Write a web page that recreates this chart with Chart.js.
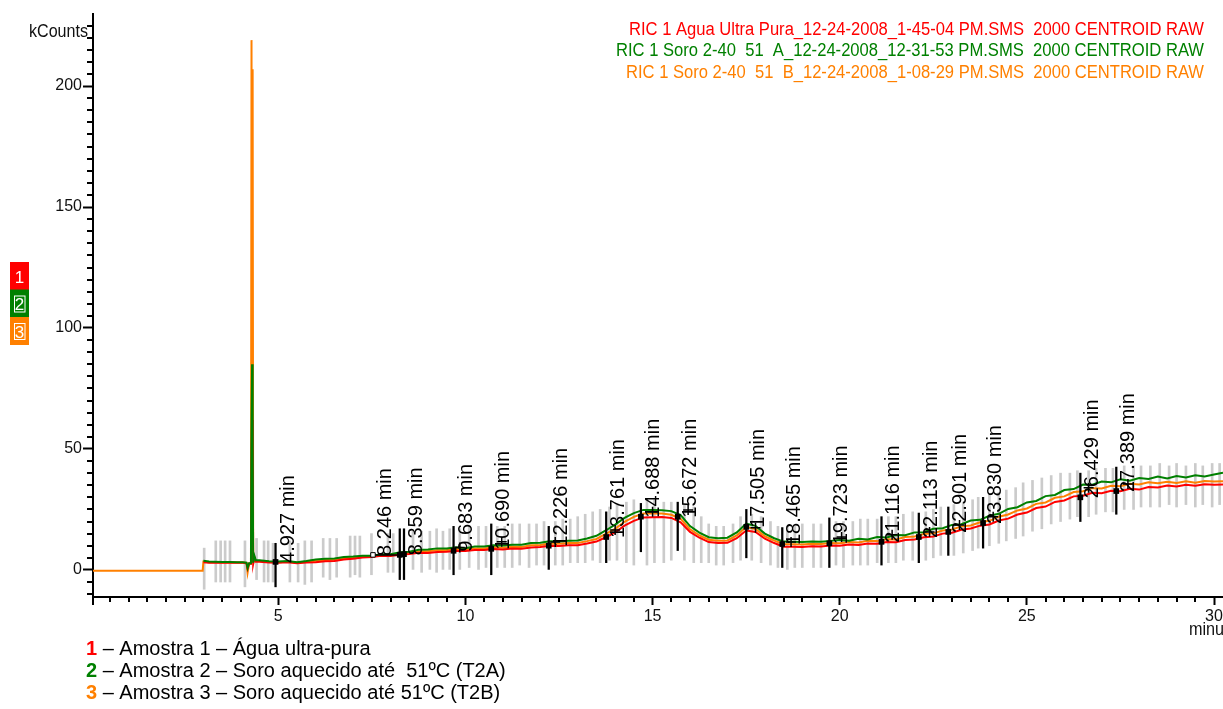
<!DOCTYPE html>
<html>
<head>
<meta charset="utf-8">
<script src="https://cdn.jsdelivr.net/npm/chart.js"></script>
<style>
  html, body { margin: 0; padding: 0; background: #fff; overflow: hidden; }
  canvas { display: block; }
</style>
</head>
<body>
<canvas id="chrom" width="1223" height="709"></canvas>
<script>
// ---- Trace names (header, top right) and sample notes (bottom left) ----
const seriesNames = [
  'RIC 1 Agua Ultra Pura_12-24-2008_1-45-04 PM.SMS  2000 CENTROID RAW',
  'RIC 1 Soro 2-40  51  A_12-24-2008_12-31-53 PM.SMS  2000 CENTROID RAW',
  'RIC 1 Soro 2-40  51  B_12-24-2008_1-08-29 PM.SMS  2000 CENTROID RAW'
];
const sampleNumbers = ['1', '2', '3'];
const sampleNotes = [
  '– Amostra 1 – Água ultra-pura',
  '– Amostra 2 – Soro aquecido até  51ºC (T2A)',
  '– Amostra 3 – Soro aquecido até 51ºC (T2B)'
];
const seriesColors = ['#ff0000', '#008000', '#ff8000'];

// ---- Axis tick labels ----
const xTickLabels = [5, 10, 15, 20, 25, 30];
const yTickLabels = [0, 50, 100, 150, 200];

// ---- Retention time (minutes) shared by the three traces ----
const retentionTime = [0.05, 2.98, 3.0, 3.15, 3.3, 3.5, 3.7, 3.9, 4.05, 4.15, 4.18, 4.22, 4.27, 4.285, 4.3, 4.315, 4.33, 4.36, 4.4,
  4.5, 4.75, 5.0, 5.25, 5.5, 5.75, 6.0, 6.25, 6.5, 6.75, 7.0, 7.25, 7.5, 7.75, 8.0, 8.25, 8.5, 8.75, 9.0, 9.25, 9.5, 9.75,
  10.0, 10.25, 10.5, 10.75, 11.0, 11.25, 11.5, 11.75, 12.0, 12.25, 12.5, 12.75, 13.0, 13.25, 13.5, 13.75, 14.0, 14.25, 14.5, 14.75,
  15.0, 15.25, 15.5, 15.75, 16.0, 16.25, 16.5, 16.75, 17.0, 17.25, 17.5, 17.75, 18.0, 18.25, 18.5, 18.75, 19.0, 19.25, 19.5, 19.75,
  20.0, 20.25, 20.5, 20.75, 21.0, 21.25, 21.5, 21.75, 22.0, 22.25, 22.5, 22.75, 23.0, 23.25, 23.5, 23.75, 24.0, 24.25, 24.5, 24.75,
  25.0, 25.25, 25.5, 25.75, 26.0, 26.25, 26.5, 26.75, 27.0, 27.25, 27.5, 27.75, 28.0, 28.25, 28.5, 28.75, 29.0, 29.25, 29.5, 29.75,
  30.0, 30.24];

// ---- Intensities (kCounts); only the T2B trace is recorded before 3 min ----
const aguaUltraPura = [null, null, 3.2, 3.0, 3.1, 3.0, 3.1, 3.0, 3.0, 2.8, 0.5, 2.5, 2.5, 45, 62, 55, 2.5, 4.8, 3.4,
  3.4, 3.1, 3.0, 3.2, 2.8, 3.1, 3.2, 3.6, 3.7, 4.3, 4.6, 5.1, 5.3, 5.8, 5.7, 6.3, 6.6, 7.1, 7.0, 7.4, 7.5, 7.9,
  7.8, 8.2, 8.2, 8.6, 8.4, 8.8, 8.7, 9.3, 9.5, 10.0, 9.9, 10.2, 10.2, 10.9, 11.7, 13.5, 15.5, 18.3, 20.3, 21.7,
  21.8, 21.9, 21.5, 19.7, 15.7, 13.3, 11.5, 11.1, 11.2, 13.1, 16.3, 15.7, 12.9, 11.1, 9.6, 9.6, 9.5, 9.8, 9.7, 10.1,
  10.0, 10.5, 10.3, 10.9, 10.8, 11.5, 11.4, 12.4, 12.6, 13.5, 13.8, 15.0, 15.4, 16.6, 17.1, 18.3, 18.8, 20.4, 21.2, 22.9,
  23.7, 25.6, 26.2, 28.1, 28.7, 30.4, 30.7, 31.9, 31.7, 32.7, 32.5, 33.5, 33.2, 34.3, 34.1, 34.9, 34.5, 35.2, 34.8, 35.4,
  35.2, 35.3];
const soroT2A = [null, null, 3.8, 3.5, 3.4, 3.3, 3.3, 3.2, 3.2, 3.0, 0.8, 2.8, 2.8, 60, 85, 50, 3.0, 6.0, 4.0,
  4.0, 3.6, 3.5, 3.7, 3.2, 3.7, 4.3, 4.6, 4.7, 5.3, 5.5, 5.9, 5.9, 6.5, 6.5, 7.3, 7.5, 8.3, 8.4, 8.9, 8.9, 9.4,
  9.0, 9.7, 9.7, 10.2, 10.1, 10.4, 10.4, 11.1, 11.2, 11.8, 11.7, 12.1, 12.2, 13.0, 14.1, 16.3, 18.7, 21.5, 23.5, 24.8,
  24.8, 24.7, 24.3, 22.7, 18.1, 15.4, 13.5, 13.1, 13.3, 15.5, 19.1, 18.2, 15.0, 13.1, 11.7, 11.6, 11.5, 11.7, 11.6, 12.0,
  12.4, 12.1, 12.9, 12.6, 13.6, 13.4, 14.4, 14.3, 15.5, 15.6, 17.0, 17.2, 18.6, 18.9, 20.4, 20.7, 22.4, 23.2, 25.2, 25.9,
  27.9, 28.5, 30.5, 31.0, 33.0, 33.4, 35.3, 35.2, 36.5, 36.2, 37.5, 36.9, 38.0, 37.6, 38.6, 37.8, 38.8, 38.2, 39.1, 38.6,
  39.4, 40.2];
const soroT2B = [-0.3, -0.3, 3.4, 3.2, 3.2, 3.1, 3.2, 3.1, 3.1, 2.9, -1.2, 2.6, 2.6, 219, 30, 207, 2.7, 5.5, 3.7,
  3.7, 3.4, 3.2, 3.4, 3.0, 3.4, 3.8, 4.1, 4.2, 4.8, 5.1, 5.5, 5.6, 6.1, 6.1, 6.8, 7.1, 7.7, 7.7, 8.1, 8.2, 8.7,
  8.4, 8.9, 8.9, 9.4, 9.2, 9.6, 9.5, 10.2, 10.3, 10.9, 10.8, 11.1, 11.1, 11.9, 12.8, 14.9, 17.0, 19.9, 21.9, 23.3,
  23.3, 23.3, 22.8, 21.1, 16.8, 14.3, 12.5, 12.1, 12.2, 14.3, 17.7, 16.9, 13.9, 12.1, 10.7, 10.6, 10.5, 10.8, 10.7, 11.1,
  11.0, 11.5, 11.3, 12.0, 11.9, 12.7, 12.6, 13.6, 13.8, 14.8, 15.1, 16.3, 16.7, 18.0, 18.4, 19.7, 20.3, 22.0, 22.9, 24.6,
  25.4, 27.3, 27.9, 29.8, 30.4, 32.2, 32.5, 33.8, 33.7, 34.8, 34.6, 35.6, 35.3, 36.2, 35.8, 36.4, 35.9, 36.6, 36.0, 36.7,
  36.5, 36.7];

// ---- Noise band of the background scan (time, low, high) ----
const noiseTimes = [3.02, 3.33, 3.46, 3.58, 3.71, 4.11, 4.42, 4.62, 4.73, 4.86, 5.31, 5.53, 5.71, 5.89, 6.2, 6.38, 6.56, 6.92, 7.05, 7.18,
  7.49, 7.93, 8.07, 8.6, 8.83, 9.05, 9.23, 9.4, 9.58, 9.85, 10.1, 10.35, 10.55, 10.85, 11.05, 11.25, 11.45, 11.7, 11.9, 12.1,
  12.4, 12.6, 12.8, 13.0, 13.2, 13.4, 13.6, 13.85, 14.05, 14.3, 14.5, 14.85, 15.05, 15.3, 15.5, 15.85, 16.1, 16.3, 16.5, 16.7,
  16.9, 17.15, 17.35, 17.65, 17.9, 18.15, 18.35, 18.6, 18.8, 19.0, 19.3, 19.5, 19.9, 20.1, 20.35, 20.55, 20.75, 21.0, 21.3, 21.5,
  21.7, 21.95, 22.3, 22.5, 22.7, 23.05, 23.3, 23.55, 23.7, 24.0, 24.25, 24.45, 24.7, 24.9, 25.15, 25.4, 25.65, 25.9, 26.15, 26.35,
  26.65, 26.85, 27.1, 27.3, 27.6, 27.85, 28.05, 28.3, 28.55, 28.8, 29.0, 29.25, 29.5, 29.7, 29.95, 30.15];
const noiseLow = [-8, -5, -5, -5, -5, -7, -4, -5, -5, -5, -5, -5, -6, -5, -3, -4, -3, -3, -2, -3,
  -2, -1, -1, 0, -1, 0, -1, 0, 0, 0, 1, 0, 1, 1, 1, 1, 2, 1, 2, 2,
  2, 2, 3, 3, 3, 4, 3, 4, 4, 3, 2, 2, 3, 3, 4, 4, 3, 3, 3, 2,
  2, 3, 4, 4, 3, 2, 1, 0, 1, 1, 1, 1, 2, 1, 2, 2, 2, 3, 3, 3,
  4, 4, 4, 5, 6, 6, 7, 8, 9, 10, 11, 12, 13, 14, 16, 17, 19, 20, 21, 22,
  22, 23, 24, 24, 25, 25, 26, 26, 26, 27, 26, 27, 26, 27, 26, 27];
const noiseHigh = [9, 12, 12, 12, 12, 12, 13, 12, 12, 11, 12, 11, 12, 12, 13, 13, 13, 14, 14, 14,
  15, 15, 15, 16, 16, 16, 17, 16, 17, 17, 18, 18, 18, 18, 18, 19, 19, 19, 19, 20,
  20, 21, 21, 22, 23, 24, 25, 26, 27, 28, 29, 29, 29, 28, 28, 27, 26, 22, 19, 18,
  18, 19, 22, 23, 22, 20, 18, 18, 18, 19, 19, 19, 20, 20, 20, 21, 21, 21, 22, 22,
  23, 24, 24, 25, 26, 27, 28, 29, 30, 31, 32, 33, 34, 36, 37, 38, 39, 40, 40, 41,
  41, 42, 42, 42, 43, 43, 43, 43, 44, 43, 44, 43, 44, 43, 44, 44];

// ---- Integrated peaks: retention time, apex height, marker extent ----
const peakTimes = [4.927, 8.246, 8.359, 9.683, 10.690, 12.226, 13.761, 14.688, 15.672, 17.505, 18.465, 19.723, 21.116, 22.113, 22.901, 23.830, 26.429, 27.389];
const peakApex  = [3.3, 6.2, 6.5, 7.9, 8.7, 10.0, 13.6, 22.0, 22.0, 17.8, 10.7, 11.0, 11.6, 13.6, 15.7, 19.4, 30.0, 32.6];
const peakLow   = [-7, -4, -4, -2, -2, 0, 3, 7.5, 8, 5, 1, 1, 2, 3, 6, 9, 20, 23];
const peakHigh  = [11, 17, 17, 18, 19, 18, 24, 27.5, 28, 25, 17.5, 21.5, 22, 23.5, 26, 30, 40, 42.5];
// peak end markers (+)
const peakEndTimes  = [9.85, 10.97, 12.4, 14.0, 15.0, 15.95, 17.75, 18.7, 20.05, 21.4, 22.4, 23.2, 24.1, 26.65, 27.7];
const peakEndValues = [9.3, 11.6, 11.5, 16.5, 24.0, 24.8, 17.4, 11.5, 13.6, 14.5, 15.7, 18.6, 22.0, 34.0, 35.5];
// baseline start of the 8.2–8.4 min pair
const baselineStartTime = 7.53;
const baselineEndTime = 8.359;
const baselineLevel = 6.2;

// ---- Chart geometry ----
const X_MIN = 0.05, X_MAX = 30.24, Y_MIN = -11.2, Y_MAX = 229.8;

// ---- Fonts ----
const SANS = '"Liberation Sans", Arial, sans-serif';
const tickFont = { family: SANS, size: 16 };

// text drawn with a horizontal squeeze (condensed look)
function drawText(ctx, text, x, y, font, color, sx, align) {
  ctx.save();
  ctx.font = font;
  ctx.fillStyle = color;
  ctx.textBaseline = 'alphabetic';
  ctx.textAlign = 'left';
  const w = ctx.measureText(text).width * sx;
  const left = align === 'right' ? x - w : (align === 'center' ? x - w / 2 : x);
  ctx.translate(left, y);
  ctx.scale(sx, 1);
  ctx.fillText(text, 0, 0);
  ctx.restore();
}
function drawTextToWidth(ctx, text, xRight, y, font, color, width) {
  ctx.save();
  ctx.font = font;
  const sx = width / ctx.measureText(text).width;
  ctx.restore();
  drawText(ctx, text, xRight, y, font, color, sx, 'right');
}

const decorations = {
  id: 'decorations',
  afterDatasetsDraw(chart) {
    const ctx = chart.ctx, xs = chart.scales.x, ys = chart.scales.y;
    // rotated peak labels
    ctx.save();
    ctx.font = '20px ' + SANS;
    ctx.fillStyle = '#000';
    ctx.textAlign = 'left';
    ctx.textBaseline = 'alphabetic';
    peakTimes.forEach((t, i) => {
      const crowded = i + 1 < peakTimes.length && peakTimes[i + 1] - t < 0.2;
      const at = crowded ? baselineStartTime : t;
      const px = xs.getPixelForValue(at);
      const py = ys.getPixelForValue(peakApex[i]);
      ctx.save();
      ctx.translate(px + 18, py + 1);
      ctx.rotate(-Math.PI / 2);
      ctx.fillText(t.toFixed(3) + ' min', 0, 0);
      ctx.restore();
    });
    ctx.restore();
  },
  afterDraw(chart) {
    const ctx = chart.ctx, xs = chart.scales.x, ys = chart.scales.y;
    const area = chart.chartArea;
    ctx.save();
    ctx.strokeStyle = '#000';
    ctx.lineWidth = 2;
    ctx.beginPath();
    // minor y ticks every 5 kCounts
    for (let v = -10; v <= Y_MAX; v += 5) {
      if (v % 50 === 0) continue;
      const py = Math.round(ys.getPixelForValue(v));
      ctx.moveTo(area.left - 6, py); ctx.lineTo(area.left, py);
    }
    // minor x ticks every 0.5 min
    for (let k = 1; k * 0.5 <= X_MAX; k++) {
      if (k % 10 === 0) continue;
      const px = Math.round(xs.getPixelForValue(k * 0.5));
      ctx.moveTo(px, area.bottom); ctx.lineTo(px, area.bottom + 5);
    }
    // axis origin stub
    ctx.moveTo(area.left, area.bottom); ctx.lineTo(area.left, area.bottom + 8);
    ctx.stroke();
    ctx.restore();

    // axis captions
    drawTextToWidth(ctx, 'kCounts', 88, 37, '19px ' + SANS, '#111', 59);
    drawText(ctx, 'minutes', 1189, 635, '18px ' + SANS, '#111', 0.9, 'left');

    // trace header (top right)
    const headerBase = [35, 56, 78];
    const headerWidth = [575, 588, 578];
    seriesNames.forEach((name, i) => {
      drawTextToWidth(ctx, name, 1204, headerBase[i], '18px ' + SANS, seriesColors[i], headerWidth[i]);
    });

    // trace badges (left)
    const badgeTop = [262, 289.5, 317];
    sampleNumbers.forEach((n, i) => {
      ctx.fillStyle = seriesColors[i];
      ctx.fillRect(10, badgeTop[i], 19, 28);
      if (i > 0) {
        ctx.strokeStyle = '#fff';
        ctx.lineWidth = 1;
        ctx.strokeRect(14.5, badgeTop[i] + 6.5, 10.5, 16);
      }
      ctx.save();
      ctx.font = '17px ' + SANS;
      ctx.fillStyle = '#fff';
      ctx.textAlign = 'center';
      ctx.textBaseline = 'alphabetic';
      ctx.fillText(n, 19.5, badgeTop[i] + 20.5);
      ctx.restore();
    });

    // sample notes (bottom left)
    const noteBase = [655, 677, 699];
    sampleNumbers.forEach((n, i) => {
      ctx.save();
      ctx.textBaseline = 'alphabetic';
      ctx.textAlign = 'left';
      ctx.font = 'bold 20px ' + SANS;
      ctx.fillStyle = seriesColors[i];
      ctx.fillText(n, 86, noteBase[i]);
      const w = ctx.measureText(n).width;
      ctx.font = '20px ' + SANS;
      ctx.fillStyle = '#000';
      ctx.fillText(' ' + sampleNotes[i], 86 + w, noteBase[i]);
      ctx.restore();
    });
  }
};

const pts = (xsArr, ysArr) => xsArr.map((t, i) => ({ x: t, y: ysArr[i] }));
const bars = (xsArr, lo, hi) => xsArr.map((t, i) => ({ x: t, y: [lo[i], hi[i]] }));
const traceStyle = (color, order) => ({
  type: 'line', borderColor: color, borderWidth: 2, pointRadius: 0, tension: 0, order: order, spanGaps: false
});

new Chart(document.getElementById('chrom'), {
  type: 'line',
  data: {
    datasets: [
      { type: 'bar', label: 'noise', data: bars(noiseTimes, noiseLow, noiseHigh),
        backgroundColor: '#cbcbcb', borderWidth: 0, barThickness: 2, grouped: false, order: 6 },
      Object.assign({ label: seriesNames[2], data: pts(retentionTime, soroT2B) }, traceStyle(seriesColors[2], 4)),
      Object.assign({ label: seriesNames[0], data: pts(retentionTime, aguaUltraPura) }, traceStyle(seriesColors[0], 3)),
      Object.assign({ label: seriesNames[1], data: pts(retentionTime, soroT2A) }, traceStyle(seriesColors[1], 2)),
      { type: 'bar', label: 'peak markers', data: bars(peakTimes, peakLow, peakHigh),
        backgroundColor: '#000', borderWidth: 0, barThickness: 1.6, grouped: false, order: 1 },
      { type: 'line', label: 'baseline', data: [{ x: baselineStartTime, y: baselineLevel }, { x: baselineEndTime, y: baselineLevel }],
        borderColor: '#000', borderWidth: 1.5, pointStyle: 'rect', pointRadius: [3.2, 0],
        pointBackgroundColor: '#fff', pointBorderColor: '#000', pointBorderWidth: 1, order: 0 },
      { type: 'line', label: 'apex', data: pts(peakTimes, peakApex), showLine: false,
        pointStyle: 'rect', pointRadius: 4, pointBackgroundColor: '#000', pointBorderColor: '#000', pointBorderWidth: 0, order: 0 },
      { type: 'line', label: 'peak end', data: pts(peakEndTimes, peakEndValues), showLine: false,
        pointStyle: 'cross', pointRadius: 5, pointBorderColor: '#000', pointBorderWidth: 1.5, order: 0 }
    ]
  },
  options: {
    responsive: false,
    animation: false,
    devicePixelRatio: 1,
    events: [],
    layout: { autoPadding: false, padding: { top: 14, right: 0, bottom: 0, left: 0 } },
    plugins: { legend: { display: false }, tooltip: { enabled: false } },
    scales: {
      x: {
        type: 'linear', min: X_MIN, max: X_MAX, offset: false,
        afterFit: (s) => { s.height = 112; s.paddingLeft = 0; s.paddingRight = 0; },
        afterBuildTicks: (s) => { s.ticks = xTickLabels.map(v => ({ value: v })); },
        grid: { display: true, drawOnChartArea: false, drawTicks: true, tickLength: 8, tickWidth: 2, tickColor: '#000', offset: false },
        border: { display: true, color: '#000', width: 2 },
        ticks: { font: tickFont, color: '#111', padding: 2, maxRotation: 0, autoSkip: false, callback: v => String(v) }
      },
      y: {
        type: 'linear', min: Y_MIN, max: Y_MAX, beginAtZero: false,
        afterFit: (s) => { s.width = 93; s.paddingTop = 0; s.paddingBottom = 0; },
        afterBuildTicks: (s) => { s.ticks = yTickLabels.map(v => ({ value: v })); },
        grid: { display: true, drawOnChartArea: false, drawTicks: true, tickLength: 10, tickWidth: 2, tickColor: '#000' },
        border: { display: true, color: '#000', width: 2 },
        ticks: { font: tickFont, color: '#111', padding: 1, autoSkip: false, callback: v => String(v) }
      }
    }
  },
  plugins: [decorations]
});
</script>
</body>
</html>
